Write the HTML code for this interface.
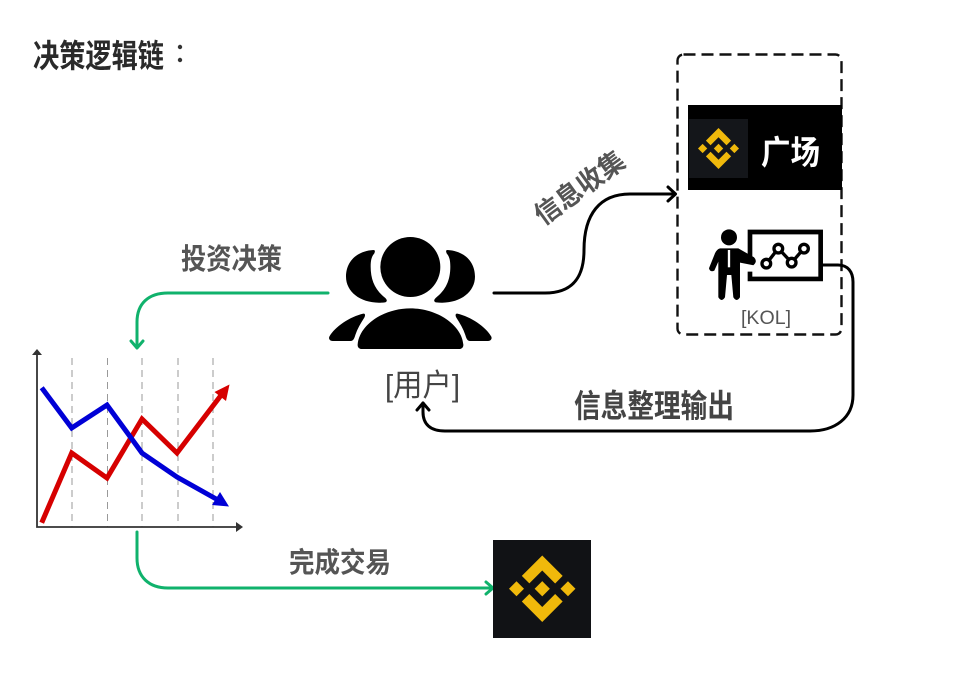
<!DOCTYPE html>
<html>
<head>
<meta charset="utf-8">
<style>
html,body{margin:0;padding:0;background:#fff;width:979px;height:675px;overflow:hidden}
svg{display:block}
text{font-family:"Liberation Sans","Noto Sans CJK SC",sans-serif}
</style>
</head>
<body>
<svg width="979" height="675" viewBox="0 0 979 675" xmlns="http://www.w3.org/2000/svg">
<defs>
<g id="bn">
<polygon points="38.73,53.2 63.31,28.63 87.9,53.22 102.2,38.92 63.31,0 24.43,38.88"/>
<polygon points="0,63.31 14.3,49 28.6,63.31 14.3,77.61"/>
<polygon points="38.73,73.41 63.31,97.99 87.9,73.4 102.2,87.69 63.31,126.6 24.42,87.71"/>
<polygon points="98,63.31 112.3,49 126.6,63.31 112.3,77.61"/>
<polygon points="77.83,63.3 63.31,48.78 48.8,63.28 63.31,77.83"/>
</g>
</defs>

<rect width="979" height="675" fill="#fff"/>

<!-- title -->
<text x="33" y="67" font-size="32" font-weight="700" fill="#2a2a2a" textLength="131" lengthAdjust="spacingAndGlyphs">决策逻辑链</text>
<circle cx="180" cy="47" r="2.200" fill="#333"/>
<circle cx="180" cy="60" r="2.200" fill="#333"/>

<!-- dashed box -->
<rect x="677.500" y="54.500" width="164" height="280" rx="6" fill="none" stroke="#111" stroke-width="2.400" stroke-dasharray="12 6"/>

<!-- square banner -->
<rect x="688" y="105" width="154" height="85" fill="#000"/>
<rect x="689" y="119" width="59" height="59" fill="#14161a"/>
<use href="#bn" transform="translate(698,128) scale(0.324)" fill="#f0b90b"/>
<text x="761" y="164" font-size="33" font-weight="700" fill="#fff" textLength="59" lengthAdjust="spacingAndGlyphs">广场</text>

<!-- KOL icon -->
<g transform="translate(660,40) scale(0.3333)">
<circle cx="207" cy="592" r="24" fill="#000"/>
<path d="M180 625 L235 625 L282 652 Q294 664 280 676 L240 668 L240 772 Q230 788 220 772 L214 705 L201 705 L195 772 Q185 788 175 772 L175 665 L163 692 Q150 698 147 685 L165 640 Q170 628 180 625Z" fill="#000"/>
<path d="M207 630 L207 682" stroke="#fff" stroke-width="7" fill="none"/>
<path d="M270 695 L270 717 L482 717 L482 576 L270 576 L270 652" fill="none" stroke="#000" stroke-width="14"/>
<path d="M320 670 L355 625 L395 668 L432 625" fill="none" stroke="#000" stroke-width="10"/>
<g fill="#fff" stroke="#000" stroke-width="10">
<circle cx="319" cy="671" r="13"/><circle cx="355" cy="626" r="13"/><circle cx="395" cy="668" r="13"/><circle cx="432" cy="626" r="13"/>
</g>
</g>
<text x="741" y="324" font-size="19" fill="#555" textLength="50" lengthAdjust="spacingAndGlyphs">[KOL]</text>

<!-- users icon -->
<g transform="translate(320,225) scale(0.3333)" fill="#000">
<circle cx="271" cy="126" r="90"/>
<path d="M160 75 C110 78 78 110 78 155 C78 205 130 240 195 232 C202 230 202 225 196 219 C165 195 152 165 152 125 C152 105 155 95 163 85 C166 78 165 75 160 75Z"/>
<path d="M383 75 C433 78 465 110 465 155 C465 205 413 240 348 232 C341 230 341 225 347 219 C378 195 391 165 391 125 C391 105 388 95 380 85 C377 78 378 75 383 75Z"/>
<path d="M113 358 C118 300 190 250 271 250 C352 250 425 300 430 358 C431 367 425 372 418 372 L125 372 C118 372 112 367 113 358Z"/>
<path d="M130 266 C90 275 45 305 28 335 C25 342 30 348 38 348 L92 348 C100 348 103 340 106 330 C112 312 122 295 133 278 C137 270 135 265 130 266Z"/>
<path d="M412 266 C452 275 497 305 514 335 C517 342 512 348 504 348 L450 348 C442 348 439 340 436 330 C430 312 420 295 409 278 C405 270 407 265 412 266Z"/>
</g>
<text x="385" y="396" font-size="31" fill="#444" textLength="75" lengthAdjust="spacingAndGlyphs">[用户]</text>

<!-- connectors black -->
<g fill="none" stroke="#000" stroke-width="3" stroke-linecap="round" stroke-linejoin="round">
<path d="M494 293 L545 293 C572 293 584 278 584 250 C584 214 600 194 630 194 L675 194"/>
<path d="M668 187 L675.500 194 L668 201"/>
<path d="M823 265 L838 265 C848 265 853 272 853 282 L853 395 C853 418 835 431 810 431 L445 431 C430 431 423 424 423 412 L423 403"/>
<path d="M417 410 L423 403 L429 410"/>
</g>

<!-- connectors green -->
<g fill="none" stroke="#10b26c" stroke-width="3" stroke-linecap="round" stroke-linejoin="round">
<path d="M328 293 L168 293 C148 293 137 304 137 322 L137 347"/>
<path d="M131 341 L137 348 L143 341"/>
<path d="M137 532 L137 558 C137 577 149 588 168 588 L492 588"/>
<path d="M486 582 L493 588 L486 594"/>
</g>

<!-- chart -->
<g stroke="#999" stroke-width="1" stroke-dasharray="7 5" fill="none">
<path d="M72 358V527M107.500 358V527M142 358V527M178 358V527M213 358V527"/>
</g>
<g stroke="#333" stroke-width="1.800" fill="none">
<path d="M37 354V527H238"/>
</g>
<polygon points="37,349 32,355 42,355" fill="#333"/>
<polygon points="243,527 236,522 236,532" fill="#333"/>
<path d="M41.700 522.700 L71.700 453 L107 478 L142 419 L177 453 L222 394" fill="none" stroke="#d60000" stroke-width="5"/>
<polygon points="229.500,384.500 226,401 214.500,392" fill="#d60000"/>
<path d="M41.700 387.700 L71.700 428 L107 405 L142 453 L177 477 L218 500" fill="none" stroke="#0000d6" stroke-width="5"/>
<polygon points="229,506.500 212,505 220,492" fill="#0000d6"/>

<!-- exchange -->
<rect x="493" y="540" width="98" height="98" fill="#111215"/>
<use href="#bn" transform="translate(509,555.500) scale(0.525)" fill="#f0b90b"/>

<!-- labels -->
<text x="181" y="269" font-size="29" font-weight="700" fill="#555" textLength="101" lengthAdjust="spacingAndGlyphs">投资决策</text>
<text x="289" y="572" font-size="28" font-weight="700" fill="#555" textLength="102" lengthAdjust="spacingAndGlyphs">完成交易</text>
<text x="574" y="417" font-size="32" font-weight="700" fill="#444" textLength="160" lengthAdjust="spacingAndGlyphs">信息整理输出</text>
<text transform="translate(543,226) rotate(-36)" font-size="27" font-weight="700" fill="#555" textLength="104" lengthAdjust="spacingAndGlyphs">信息收集</text>
</svg>
</body>
</html>
